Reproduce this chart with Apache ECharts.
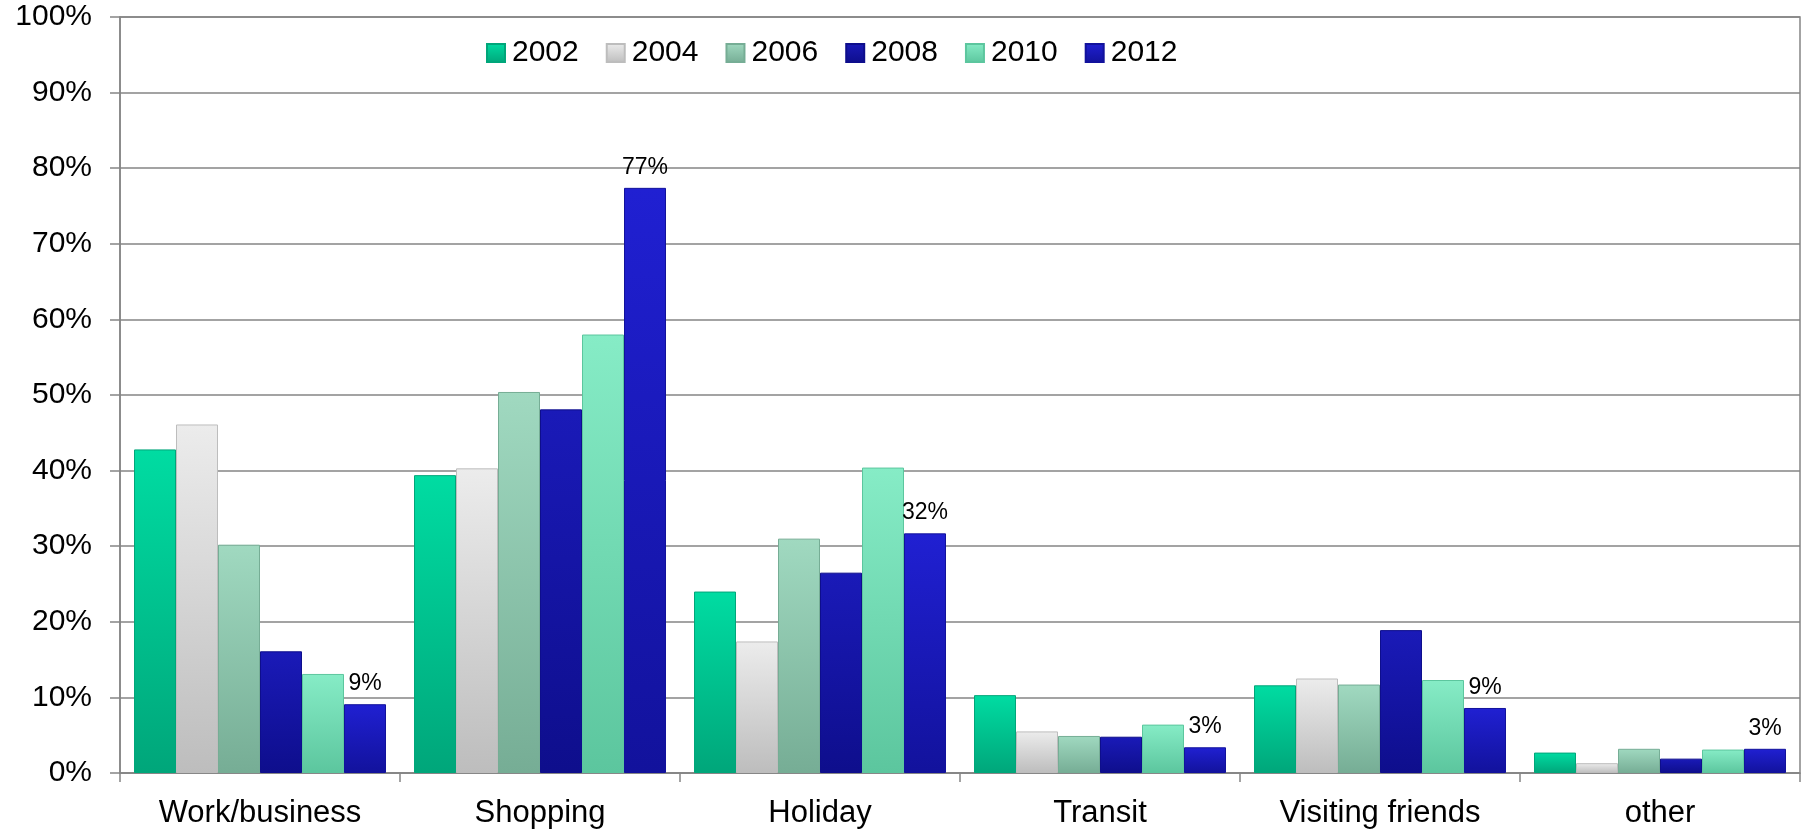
<!DOCTYPE html>
<html>
<head>
<meta charset="utf-8">
<script src="https://cdn.jsdelivr.net/npm/echarts@6/dist/echarts.min.js"></script>
<style>
html,body{margin:0;padding:0;background:#fff;}
#chart{width:1804px;height:829px;}
</style>
</head>
<body>
<div id="chart"></div>
<script>
var categories = ['Work/business', 'Shopping', 'Holiday', 'Transit', 'Visiting friends', 'other'];
var years = ['2002', '2004', '2006', '2008', '2010', '2012'];
var v2002 = [42.8, 39.4, 24.0, 10.3, 11.6, 2.7];
var v2004 = [46.1, 40.3, 17.4, 5.5, 12.5, 1.3];
var v2006 = [30.2, 50.4, 31.0, 4.9, 11.7, 3.2];
var v2008 = [16.1, 48.1, 26.5, 4.8, 18.9, 1.9];
var v2010 = [13.1, 58.0, 40.4, 6.4, 12.3, 3.1];
var v2012 = [9.1, 77.4, 31.7, 3.4, 8.6, 3.2];
var yTicks = {min: 0, max: 100, interval: 10};

var seriesValues = [v2002, v2004, v2006, v2008, v2010, v2012];
var colorPairs = [
  ['#00dca2', '#00a67a'],
  ['#ececec', '#bdbdbd'],
  ['#a0d9c0', '#76ad95'],
  ['#1a1ab8', '#0e0e8c'],
  ['#86ecc6', '#5cc69e'],
  ['#2020d2', '#12129c']
];
var font = '"Liberation Sans", Arial, sans-serif';

function grad(c) {
  return new echarts.graphic.LinearGradient(0, 0, 0, 1, [
    {offset: 0, color: c[0]},
    {offset: 1, color: c[1]}
  ]);
}

var series = years.map(function (y, i) {
  var s = {
    name: y,
    type: 'bar',
    data: seriesValues[i],
    barGap: '0%',
    barCategoryGap: '10%',
    itemStyle: {
      color: grad(colorPairs[i]),
      borderColor: colorPairs[i][1],
      borderWidth: 1
    }
  };
  if (i === years.length - 1) {
    s.label = {
      show: true,
      position: 'top',
      distance: 9,
      fontSize: 23,
      fontFamily: font,
      color: '#000',
      formatter: function (p) { return Math.round(p.value) + '%'; }
    };
  }
  return s;
});

var chart = echarts.init(document.getElementById('chart'));
chart.setOption({
  animation: false,
  backgroundColor: '#fff',
  textStyle: {fontFamily: font},
  legend: {
    data: years,
    left: 481,
    top: 33,
    itemWidth: 18,
    itemHeight: 18,
    itemGap: 27,
    icon: 'rect',
    textStyle: {fontSize: 30, color: '#000', fontFamily: font, padding: [0, 0, 0, 2]}
  },
  grid: {
    left: 120,
    right: 4,
    top: 17,
    bottom: 55,
    show: true,
    borderColor: '#858585',
    borderWidth: 1.5,
    containLabel: false
  },
  xAxis: {
    type: 'category',
    data: categories,
    axisLine: {lineStyle: {color: '#858585', width: 1.5}},
    axisTick: {show: true, length: 9, lineStyle: {color: '#858585', width: 1.5}},
    axisLabel: {fontSize: 31, color: '#000', fontFamily: font, margin: 25}
  },
  yAxis: {
    type: 'value',
    min: yTicks.min,
    max: yTicks.max,
    interval: yTicks.interval,
    axisLine: {show: true, lineStyle: {color: '#858585', width: 1.5}},
    axisTick: {show: true, length: 10, lineStyle: {color: '#858585', width: 1.5}},
    splitLine: {show: true, lineStyle: {color: '#858585', width: 1.5}},
    axisLabel: {fontSize: 30, color: '#000', fontFamily: font, margin: 28, formatter: '{value}%'}
  },
  series: series
});
</script>
</body>
</html>
